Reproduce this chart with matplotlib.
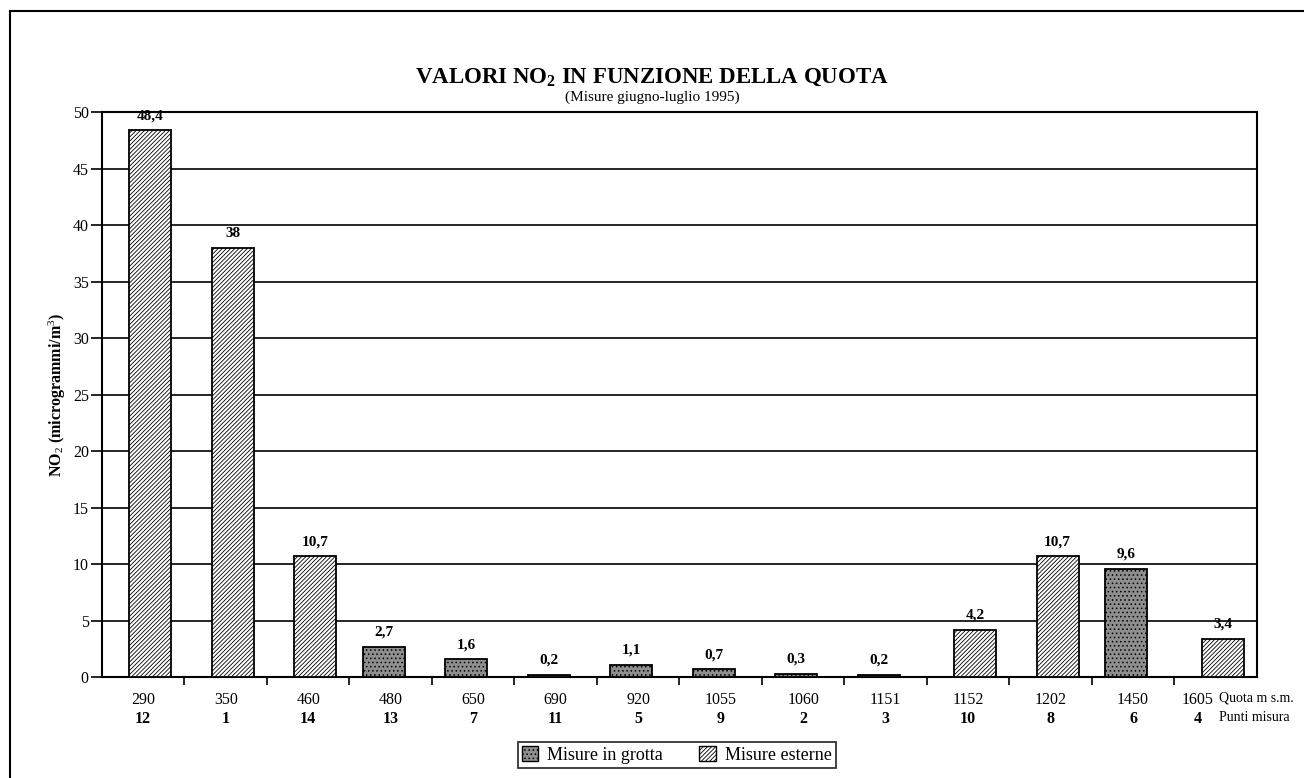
import matplotlib.pyplot as plt
import matplotlib.lines as mlines
from matplotlib.patches import Patch
import numpy as np

# data
quota = ["290", "350", "460", "480", "650", "690", "920", "1055",
         "1060", "1151", "1152", "1202", "1450", "1605"]
punti = ["12", "1", "14", "13", "7", "11", "5", "9", "2", "3", "10", "8", "6", "4"]
no2 = [48.4, 38, 10.7, 2.7, 1.6, 0.2, 1.1, 0.7, 0.3, 0.2, 4.2, 10.7, 9.6, 3.4]
tipo = ["est", "est", "est", "grotta", "grotta", "grotta", "grotta", "grotta",
        "grotta", "grotta", "est", "est", "grotta", "est"]

plt.rcParams['font.family'] = ['Liberation Serif', 'DejaVu Serif']
plt.rcParams['mathtext.fontset'] = 'custom'
plt.rcParams['mathtext.rm'] = 'Liberation Serif'
plt.rcParams['mathtext.it'] = 'Liberation Serif:italic'
plt.rcParams['mathtext.bf'] = 'Liberation Serif:bold'
plt.rcParams['hatch.linewidth'] = 0.6

fig = plt.figure(figsize=(13.04, 7.78), dpi=100)
ax = fig.add_axes([0.0782, 0.1298, 0.8856, 0.7262])

x = np.arange(len(no2))
width = 0.51
offset = 0.085

grotta_color = "#8e8e8e"
for i, (v, t) in enumerate(zip(no2, tipo)):
    if t == "grotta":
        ax.bar(x[i] - offset, v, width, color=grotta_color, edgecolor="black",
               linewidth=1.3, hatch="....", zorder=3)
        xc = x[i] - offset
    else:
        ax.bar(x[i] + offset, v, width, color="white", edgecolor="black",
               linewidth=1.3, hatch="////////", zorder=3)
        xc = x[i] + offset
    label = ("%g" % v).replace(".", ",")
    ax.text(xc, v + 0.7, label, ha="center", va="bottom",
            fontsize=11, fontweight="bold")

# axes setup
ax.set_xlim(-0.5, len(no2) - 0.5)
ax.set_ylim(0, 50)
ax.set_yticks(np.arange(0, 51, 5))
ax.tick_params(axis="y", direction="out", length=8, width=1.2, labelsize=11.5, pad=1.5)
ax.grid(axis="y", color="black", linewidth=1.2, zorder=1)

# x ticks between categories, labels drawn manually
ax.set_xticks(np.arange(0.5, len(no2) - 1, 1.0))
ax.set_xticklabels([])
ax.tick_params(axis="x", direction="out", length=6, width=1.2)

for sp in ax.spines.values():
    sp.set_linewidth(1.5)
    sp.set_color("black")

for i in range(len(no2)):
    xl = x[i] if i < len(no2) - 1 else x[i] - 0.22
    ax.text(xl, -1.3, quota[i], ha="center", va="top", fontsize=11.5)
    ax.text(xl, -3.0, punti[i], ha="center", va="top", fontsize=11.5,
            fontweight="bold")

fig.text(0.9345, 0.1298 - 1.3 / 50 * 0.7262, "Quota m s.m.", ha="left", va="top", fontsize=10)
fig.text(0.9345, 0.1298 - 3.0 / 50 * 0.7262, "Punti misura", ha="left", va="top", fontsize=10)

ax.set_ylabel("NO$_2$ (microgrammi/m$^3$)", fontsize=11.5, fontweight="bold")
ax.yaxis.set_label_coords(-0.029, 0.5)

# title
fig.text(0.5, 0.901, r"VALORI NO$_\mathbf{2}$ IN FUNZIONE DELLA QUOTA", ha="center",
         va="center", fontsize=16.5, fontweight="bold")
fig.text(0.5, 0.875, "(Misure giugno-luglio 1995)", ha="center", va="center", fontsize=11)

# legend
handles = [Patch(facecolor=grotta_color, edgecolor="black", hatch="....", label="Misure in grotta"),
           Patch(facecolor="white", edgecolor="black", hatch="////////", label="Misure esterne")]
leg = fig.legend(handles=handles, loc="center", bbox_to_anchor=(0.519, 0.0295), ncol=2,
                 fancybox=False, edgecolor="black", fontsize=13, handlelength=0.9,
                 handleheight=0.9, columnspacing=2.0, borderpad=0.25, handletextpad=0.5)
leg.get_frame().set_linewidth(1.3)

# outer frame (left and top)
fig.add_artist(mlines.Line2D([0.0077, 0.0077], [0, 0.986], color="black", linewidth=1.5,
                             transform=fig.transFigure))
fig.add_artist(mlines.Line2D([0.0077, 1.0], [0.986, 0.986], color="black", linewidth=1.5,
                             transform=fig.transFigure))

fig.savefig("out.png", dpi=100)
